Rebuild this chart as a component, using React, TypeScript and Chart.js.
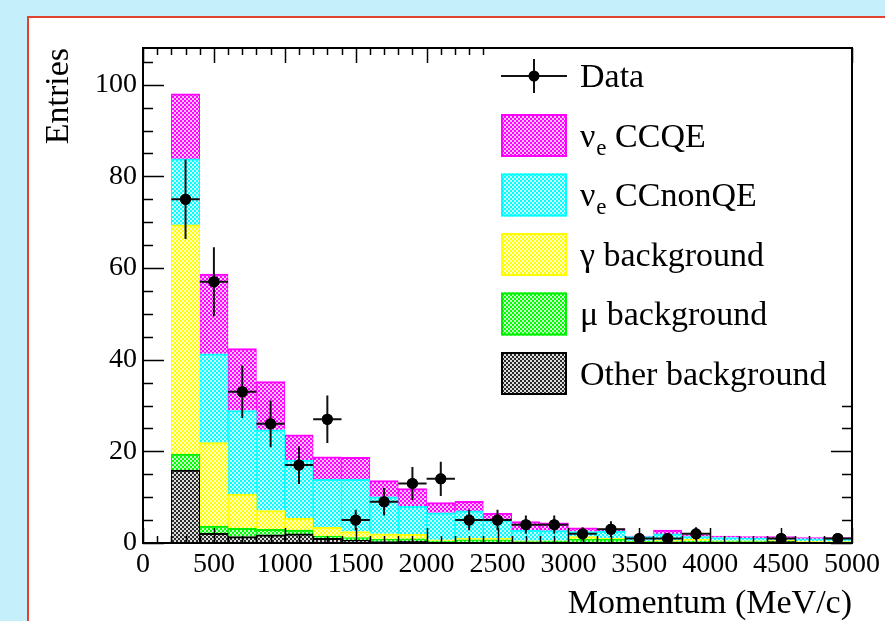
import React, { useEffect, useRef } from 'react';
import { Chart, registerables } from 'chart.js';

Chart.register(...registerables);

// Bin centres (MeV/c), 200 MeV/c wide bins from 200 to 5000
const binCenters = [300, 500, 700, 900, 1100, 1300, 1500, 1700, 1900, 2100, 2300, 2500,
  2700, 2900, 3100, 3300, 3500, 3700, 3900, 4100, 4300, 4500, 4700, 4900];
const binHalfWidth = 100;

// Stacked MC components (bottom to top)
const otherBkg = [15.9, 2.1, 1.4, 1.8, 2.0, 1.0, 0.65, 0.3, 0.4, 0.1, 0.1, 0.1,
  0.1, 0.1, 0.2, 0.1, 0.0, 0.1, 0.1, 0.1, 0.1, 0.3, 0.1, 0.1];
const muBkg = [3.5, 1.6, 1.8, 1.2, 0.8, 0.5, 0.55, 0.5, 0.5, 0.3, 0.6, 0.6,
  0.2, 0.3, 0.6, 0.7, 0.3, 0.2, 0.3, 0.2, 0.2, 0.1, 0.1, 0.1];
const gammaBkg = [50.0, 18.2, 7.5, 4.1, 2.6, 1.9, 1.3, 1.2, 1.0, 0.3, 0.3, 0.3,
  0.2, 0.1, 0.6, 0.2, 0.1, 0.3, 0.4, 0.2, 0.2, 0.2, 0.2, 0.1];
const nueCCnonQE = [14.4, 19.4, 18.2, 17.6, 12.7, 10.5, 11.4, 8.1, 6.1, 5.9, 6.0, 4.0,
  2.3, 2.2, 1.1, 1.6, 1.0, 1.4, 0.6, 0.7, 0.6, 0.4, 0.5, 0.5];
const nueCCQE = [14.2, 17.4, 13.5, 10.5, 5.5, 4.9, 4.8, 3.5, 3.9, 2.2, 2.1, 1.5,
  1.9, 1.7, 0.8, 0.5, 0.1, 0.8, 0.4, 0.3, 0.3, 0.4, 0.3, 0.4];

// Observed data (entries per bin); empty bins are not drawn
const dataCounts = [75, 57, 33, 26, 17, 27, 5, 9, 13, 14, 5, 5,
  4, 4, 2, 3, 1, 1, 2, 0, 0, 1, 0, 1];

const xMin = 0;
const xMax = 5000;
const xMajorStep = 500;
const xMinorStep = 100;
const yMin = 0;
const yMax = 108;
const yMajorStep = 20;
const yMinorStep = 5;

const seriesLabels = ['Other background', 'μ background', 'γ background', 'νe CCnonQE', 'νe CCQE'];
const seriesColors = ['#000000', '#00ee00', '#ffff00', '#00ffff', '#ff00ff'];
const seriesLight = ['#dcdcdc', '#c8ffc8', '#ffffc8', '#c8ffff', '#ffc4ff'];
const seriesDark = ['#2a2a2a', '#00ff00', '#ffff00', '#00ffff', '#ff00ff'];

const SERIF = "'Liberation Serif', 'Times New Roman', Times, serif";

function makePattern(dark: string, light: string): CanvasPattern | string {
  const c = document.createElement('canvas');
  c.width = 4;
  c.height = 4;
  const g = c.getContext('2d');
  if (!g) return dark;
  g.fillStyle = light;
  g.fillRect(0, 0, 4, 4);
  g.fillStyle = dark;
  g.fillRect(0, 0, 2, 2);
  g.fillRect(2, 2, 2, 2);
  return g.createPattern(c, 'repeat') || dark;
}

export default function App() {
  const canvasRef = useRef<HTMLCanvasElement | null>(null);

  useEffect(() => {
    const canvas = canvasRef.current;
    if (!canvas) return;

    const patterns = seriesDark.map((d, i) => makePattern(d, seriesLight[i]));
    const components = [otherBkg, muBkg, gammaBkg, nueCCnonQE, nueCCQE];

    const barSets = components.map((vals, i) => ({
      type: 'bar' as const,
      label: seriesLabels[i],
      data: vals.map((v, j) => ({ x: binCenters[j], y: v })),
      backgroundColor: patterns[i],
      borderColor: seriesColors[i],
      borderWidth: { top: 2, left: 1, right: 1, bottom: 0 },
      borderSkipped: 'start' as const,
      stack: 'mc',
      barPercentage: 1,
      categoryPercentage: 1,
      order: 1,
    }));

    const dataPoints = dataCounts
      .map((n, j) => ({ x: binCenters[j], y: n }))
      .filter((p) => p.y > 0);

    const scatterSet = {
      type: 'scatter' as const,
      label: 'Data',
      data: dataPoints,
      backgroundColor: '#000000',
      borderColor: '#000000',
      borderWidth: 0,
      pointRadius: 5.5,
      pointHoverRadius: 5.5,
      showLine: false,
      stack: 'data',
      order: 0,
    };

    const framePlugin = {
      id: 'rootFrame',
      afterDatasetsDraw(chart: any) {
        const { ctx, chartArea, scales } = chart;
        const x = scales.x;
        const y = scales.y;
        const { left, right, top, bottom } = chartArea;
        ctx.save();

        // error bars
        ctx.strokeStyle = '#111111';
        ctx.lineWidth = 2;
        dataCounts.forEach((n, j) => {
          if (!n) return;
          const err = Math.sqrt(n);
          const cx = x.getPixelForValue(binCenters[j]);
          const cy = y.getPixelForValue(n);
          ctx.beginPath();
          ctx.moveTo(x.getPixelForValue(binCenters[j] - binHalfWidth), cy);
          ctx.lineTo(x.getPixelForValue(binCenters[j] + binHalfWidth), cy);
          ctx.moveTo(cx, y.getPixelForValue(Math.max(yMin, n - err)));
          ctx.lineTo(cx, y.getPixelForValue(Math.min(yMax, n + err)));
          ctx.stroke();
        });
        // markers on top
        ctx.fillStyle = '#000000';
        dataCounts.forEach((n, j) => {
          if (!n) return;
          ctx.beginPath();
          ctx.arc(x.getPixelForValue(binCenters[j]), y.getPixelForValue(n), 5.5, 0, Math.PI * 2);
          ctx.fill();
        });

        // inward ticks on all four sides
        ctx.strokeStyle = '#000000';
        ctx.lineWidth = 1.5;
        ctx.beginPath();
        for (let v = xMin; v <= xMax; v += xMinorStep) {
          const px = Math.round(x.getPixelForValue(v)) + 0.5;
          const len = v % xMajorStep === 0 ? 15 : 7;
          ctx.moveTo(px, bottom);
          ctx.lineTo(px, bottom - len);
          ctx.moveTo(px, top);
          ctx.lineTo(px, top + len);
        }
        for (let v = yMin; v <= yMax; v += yMinorStep) {
          const py = Math.round(y.getPixelForValue(v)) + 0.5;
          const len = v % yMajorStep === 0 ? 21 : 10;
          ctx.moveTo(left, py);
          ctx.lineTo(left + len, py);
          ctx.moveTo(right, py);
          ctx.lineTo(right - len, py);
        }
        ctx.stroke();

        // legend (white box covering ticks)
        const lx = 487;
        const ly = top + 1;
        ctx.fillStyle = '#ffffff';
        ctx.fillRect(lx, ly, right - lx - 1, 400 - ly);

        const boxX = 501;
        const boxW = 66;
        const boxH = 43;
        const textX = 580;
        const row0 = 76;
        const rowStep = 59.5;
        const fontBig = `34px ${SERIF}`;
        ctx.fillStyle = '#000000';
        ctx.textBaseline = 'alphabetic';
        ctx.textAlign = 'left';

        // Data entry
        ctx.strokeStyle = '#111111';
        ctx.lineWidth = 2;
        ctx.beginPath();
        ctx.moveTo(boxX, row0);
        ctx.lineTo(boxX + boxW, row0);
        ctx.moveTo(boxX + boxW / 2, row0 - 17);
        ctx.lineTo(boxX + boxW / 2, row0 + 17);
        ctx.stroke();
        ctx.beginPath();
        ctx.arc(boxX + boxW / 2, row0, 5.5, 0, Math.PI * 2);
        ctx.fill();
        ctx.font = fontBig;
        ctx.fillText('Data', textX, row0 + 11);

        const order = [4, 3, 2, 1, 0];
        order.forEach((si, k) => {
          const cy = row0 + rowStep * (k + 1);
          ctx.fillStyle = patterns[si] as any;
          ctx.fillRect(boxX, cy - boxH / 2, boxW, boxH);
          ctx.strokeStyle = seriesColors[si];
          ctx.lineWidth = 2;
          ctx.strokeRect(boxX + 1, cy - boxH / 2 + 1, boxW - 2, boxH - 2);
          ctx.fillStyle = '#000000';
          const label = seriesLabels[si];
          const base = cy + 11;
          if (label.startsWith('νe')) {
            ctx.font = fontBig;
            ctx.fillText('ν', textX, base);
            let cx = textX + ctx.measureText('ν').width + 1;
            ctx.font = `23px ${SERIF}`;
            ctx.fillText('e', cx, base + 8);
            cx += ctx.measureText('e').width;
            ctx.font = fontBig;
            ctx.fillText(label.slice(2), cx, base);
          } else {
            ctx.font = fontBig;
            ctx.fillText(label, textX, base);
          }
        });

        // frame
        ctx.strokeStyle = '#000000';
        ctx.lineWidth = 2;
        ctx.strokeRect(left, top, right - left, bottom - top);
        ctx.restore();
      },
    };

    const chart = new Chart(canvas, {
      type: 'bar',
      data: {
        datasets: [scatterSet as any, ...barSets],
      },
      options: {
        animation: false,
        responsive: false,
        devicePixelRatio: 1,
        events: [],
        layout: { padding: { left: 30, right: 28, top: 48, bottom: 0 } },
        plugins: {
          legend: { display: false },
          tooltip: { enabled: false },
        },
        elements: {
          point: { radius: 0 },
        },
        scales: {
          x: {
            type: 'linear',
            min: xMin,
            max: xMax,
            offset: false,
            grid: { display: false, drawTicks: false, offset: false },
            border: { display: false },
            ticks: {
              stepSize: xMajorStep,
              autoSkip: false,
              maxRotation: 0,
              minRotation: 0,
              padding: 5,
              color: '#000000',
              font: { family: SERIF, size: 28 },
              callback: (v: any) => String(v),
            },
            title: {
              display: true,
              text: 'Momentum (MeV/c)',
              align: 'end',
              color: '#000000',
              font: { family: SERIF, size: 34 },
              padding: { top: 0, bottom: 0 },
            },
            afterFit: (scale: any) => {
              scale.height = 81;
            },
          },
          y: {
            type: 'linear',
            min: yMin,
            max: yMax,
            stacked: true,
            grid: { display: false, drawTicks: false },
            border: { display: false },
            ticks: {
              stepSize: yMajorStep,
              padding: 6,
              color: '#000000',
              font: { family: SERIF, size: 28 },
              callback: (v: any) => String(v),
            },
            afterBuildTicks: (axis: any) => {
              axis.ticks = axis.ticks.filter((t: any) => t.value % yMajorStep === 0);
            },
            title: {
              display: true,
              text: 'Entries',
              align: 'end',
              color: '#000000',
              font: { family: SERIF, size: 34 },
              padding: { top: 9, bottom: 0 },
            },
            afterFit: (scale: any) => {
              scale.width = 113;
            },
          },
        },
      } as any,
      plugins: [framePlugin],
    });

    return () => {
      chart.destroy();
    };
  }, []);

  return (
    <div
      style={{
        position: 'fixed',
        left: 0,
        top: 0,
        width: 885,
        height: 621,
        overflow: 'hidden',
        background: '#c6effc',
      }}
    >
      <div
        style={{
          position: 'absolute',
          left: 27,
          top: 16,
          width: 900,
          height: 700,
          background: '#ffffff',
          borderLeft: '2px solid #e2432f',
          borderTop: '2px solid #e2432f',
        }}
      />
      <canvas
        ref={canvasRef}
        width={885}
        height={624}
        style={{ position: 'absolute', left: 0, top: 0, width: 885, height: 624 }}
      />
    </div>
  );
}
